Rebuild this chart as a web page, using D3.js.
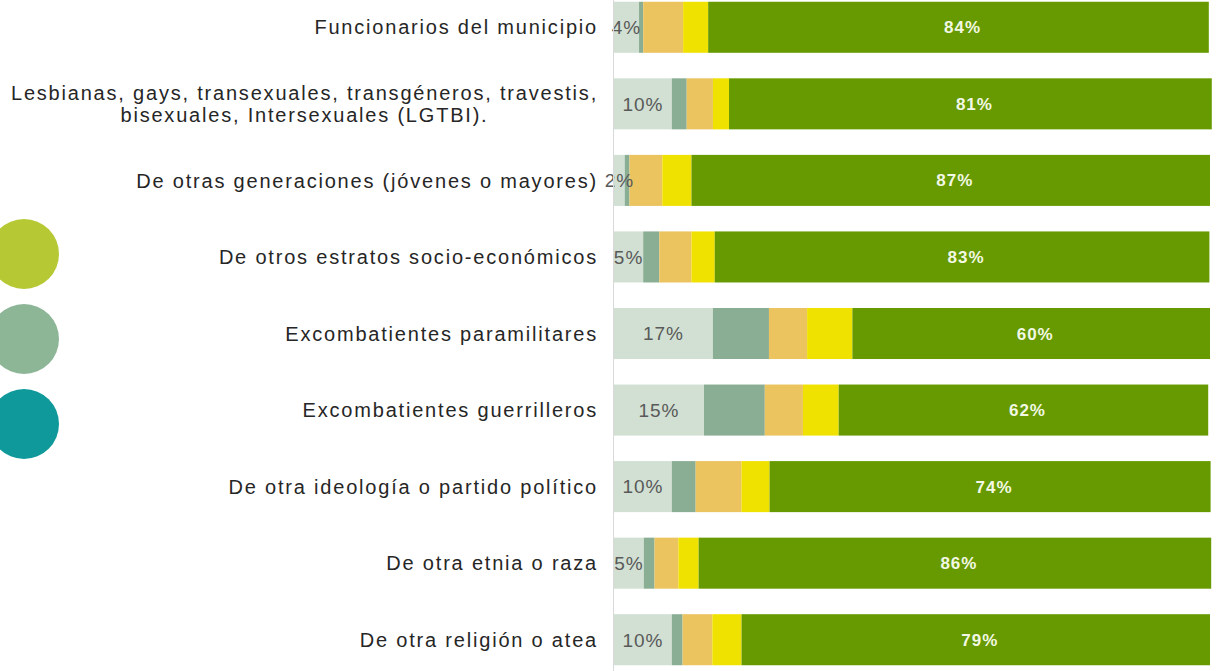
<!DOCTYPE html>
<html>
<head>
<meta charset="utf-8">
<script src="https://cdn.jsdelivr.net/npm/d3@7"></script>
<style>
  body { margin: 0; background: #fff; }
  svg { display: block; }
</style>
</head>
<body>
<div id="chart"></div>
<script>
let categories = [
  'Funcionarios del municipio',
  'Lesbianas, gays, transexuales, transgéneros, travestis,|bisexuales, Intersexuales (LGTBI).',
  'De otras generaciones (jóvenes o mayores)',
  'De otros estratos socio-económicos',
  'Excombatientes paramilitares',
  'Excombatientes guerrilleros',
  'De otra ideología o partido político',
  'De otra etnia o raza',
  'De otra religión o atea'
]

// five answer levels, percent of respondents
let level1 = [4.2, 9.7, 1.8, 4.9, 16.6, 15.1, 9.7, 5.0, 9.7]
let level2 = [0.7, 2.5, 0.8, 2.7, 9.4, 10.2, 4.0, 1.8, 1.8]
let level3 = [6.7, 4.4, 5.5, 5.4, 6.4, 6.4, 7.7, 4.0, 5.0]
let level4 = [4.2, 2.7, 4.9, 3.9, 7.6, 6.0, 4.7, 3.4, 4.9]
let level5 = [84, 81, 87, 83, 60, 62, 74, 86, 78.6]

let levelColors = ['#d1e0d3', '#8aae93', '#ebc35f', '#f0e200', '#669a00']

// leftover legend markers (labels cut off in the source)
let legendColors = ['#b7c835', '#8db697', '#10999a']

let width = 1218
let height = 671

let svg = d3
  .select('#chart')
  .append('svg')
  .attr('width', width)
  .attr('height', height)

let xPositionScale = d3.scaleLinear().domain([0, 100]).range([614, 1210])

let yPositionScale = d3
  .scaleBand()
  .domain(d3.range(categories.length))
  .range([-11, 678])
  .paddingInner(1 / 3)
  .paddingOuter(1 / 6)

let rows = categories.map((c, i) => {
  let vals = [level1[i], level2[i], level3[i], level4[i], level5[i]]
  let x0 = 0
  let segs = vals.map((v, k) => {
    let s = { k: k, x0: x0, x1: x0 + v, v: v }
    x0 += v
    return s
  })
  return { i: i, label: c, segs: segs }
})

let font = '"Liberation Sans", Arial, sans-serif'

let row = svg
  .selectAll('.row')
  .data(rows)
  .enter()
  .append('g')
  .attr('class', 'row')
  .attr('transform', d => `translate(0,${yPositionScale(d.i)})`)

row
  .selectAll('rect')
  .data(d => d.segs)
  .enter()
  .append('rect')
  .attr('x', d => xPositionScale(d.x0))
  .attr('width', d => xPositionScale(d.x1) - xPositionScale(d.x0))
  .attr('y', 0)
  .attr('height', yPositionScale.bandwidth())
  .attr('fill', d => levelColors[d.k])

// axis line
svg
  .append('line')
  .attr('x1', xPositionScale(0) - 0.5)
  .attr('x2', xPositionScale(0) - 0.5)
  .attr('y1', 0)
  .attr('y2', height)
  .attr('stroke', '#d9d9d9')
  .attr('stroke-width', 1)

let mid = yPositionScale.bandwidth() / 2

// first level labels
row
  .append('text')
  .text(d => Math.round(d.segs[0].v) + '%')
  .attr('x', d => xPositionScale((d.segs[0].x0 + d.segs[0].x1) / 2))
  .attr('y', mid)
  .attr('dy', '0.36em')
  .attr('text-anchor', 'middle')
  .attr('font-family', font)
  .attr('font-size', 19)
  .attr('letter-spacing', 1)
  .attr('fill', '#595959')

// last level labels
row
  .append('text')
  .text(d => Math.round(d.segs[4].v) + '%')
  .attr('x', d => xPositionScale((d.segs[4].x0 + d.segs[4].x1) / 2) + 4)
  .attr('y', mid)
  .attr('dy', '0.36em')
  .attr('text-anchor', 'middle')
  .attr('font-family', font)
  .attr('font-weight', 'bold')
  .attr('font-size', 17)
  .attr('letter-spacing', 1)
  .attr('fill', '#f2f8e4')

// category labels
row.each(function(d) {
  let g = d3.select(this)
  let lines = d.label.split('|')
  let lineHeight = 22
  let first = g
    .append('text')
    .text(lines[0])
    .attr('x', 598)
    .attr('y', mid - ((lines.length - 1) * lineHeight) / 2)
    .attr('dy', '0.36em')
    .attr('text-anchor', 'end')
    .attr('font-family', font)
    .attr('font-size', 20)
    .attr('letter-spacing', 1.8)
    .attr('fill', '#262626')
  let w = first.node().getComputedTextLength()
  lines.slice(1).forEach((line, j) => {
    g.append('text')
      .text(line)
      .attr('x', 598 - w / 2)
      .attr('y', mid - ((lines.length - 1) * lineHeight) / 2 + (j + 1) * lineHeight)
      .attr('dy', '0.36em')
      .attr('text-anchor', 'middle')
      .attr('font-family', font)
      .attr('font-size', 20)
      .attr('letter-spacing', 1.8)
      .attr('fill', '#262626')
  })
})

let legendScale = d3.scalePoint().domain(d3.range(legendColors.length)).range([254, 424])

svg
  .selectAll('.legend-dot')
  .data(legendColors)
  .enter()
  .append('circle')
  .attr('class', 'legend-dot')
  .attr('cx', 24)
  .attr('cy', (d, i) => legendScale(i))
  .attr('r', 35)
  .attr('fill', d => d)
</script>
</body>
</html>
